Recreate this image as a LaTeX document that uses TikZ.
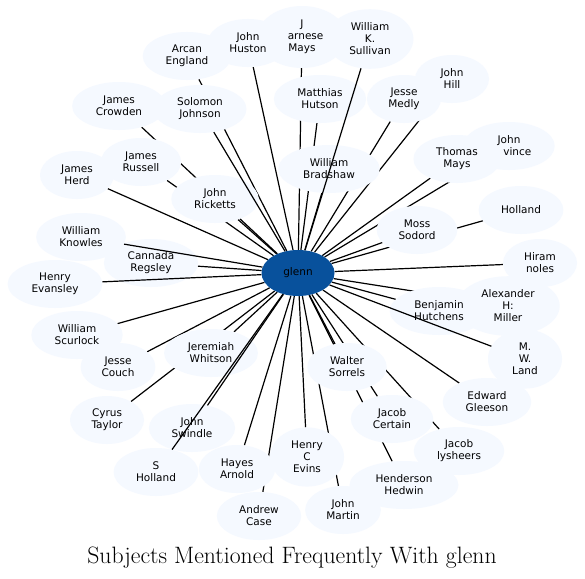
\documentclass[tikz,border=0pt]{standalone}
\usepackage{fontspec}
\newfontfamily\nodefont{DejaVu Sans}
\usetikzlibrary{shapes.geometric,backgrounds}
\definecolor{nodefill}{RGB}{245,249,255}
\definecolor{hubfill}{HTML}{08519C}
\begin{document}
\begin{tikzpicture}[x=1pt,y=-1pt,
  person/.style={ellipse, fill=nodefill, inner xsep=10pt, inner ysep=5pt,
    minimum width=74pt, minimum height=48pt,
    font=\nodefont\fontsize{10.5}{12}\selectfont, align=center},
  hub/.style={ellipse, fill=hubfill, minimum width=73pt, minimum height=46pt,
    inner sep=0pt, text=black, font=\nodefont\fontsize{10.5}{12}\selectfont},
  link/.style={line width=1.2pt, black},
  titletext/.style={font=\fontsize{23.7}{28}\selectfont}]
\useasboundingbox (0,0) rectangle (585,578);
% nodes
\node[person] (jmays) at (302,37) {J\\\hphantom{V}arnese\\Mays};
\node[person] (huston) at (248,43) {John\\Huston};
\node[person] (sullivan) at (370,39) {William\\K.\\Sullivan};
\node[person] (arcan) at (187,56) {Arcan\\England};
\node[person] (hill) at (452,79) {John\\Hill};
\node[person] (medly) at (404,99) {Jesse\\Medly};
\node[person] (matthias) at (320,99) {Matthias\\Hutson};
\node[person] (crowden) at (119,106) {James\\Crowden};
\node[person] (solomon) at (200,109) {Solomon\\Johnson};
\node[person] (province) at (509,146) {John\\\hphantom{Pro}vince};
\node[person] (tmays) at (457,159) {Thomas\\Mays};
\node[person] (russell) at (141,162) {James\\Russell};
\node[person] (bradshaw) at (329,169) {William\\Bradshaw};
\node[person] (herd) at (77,175) {James\\Herd};
\node[person] (ricketts) at (215,199) {John\\Ricketts};
\node[person] (holland) at (521,210) {Holland};
\node[person] (moss) at (417,230) {Moss\\Sodord};
\node[person] (knowles) at (81,237) {William\\Knowles};
\node[person] (cannada) at (151,263) {Cannada\\Regsley};
\node[person] (hiram) at (540,263) {Hiram\\noles};
\node[person] (evansley) at (55,284) {Henry\\Evansley};
\node[person] (miller) at (508,306) {Alexander\\H:\\Miller};
\node[person] (benjamin) at (439,311) {Benjamin\\Hutchens};
\node[person] (scurlock) at (77,335) {William\\Scurlock};
\node[person] (jeremiah) at (211,353) {Jeremiah\\Whitson};
\node[person] (land) at (525,359) {M.\\W.\\Land};
\node[person] (couch) at (118,367) {Jesse\\Couch};
\node[person] (sorrels) at (347,367) {Walter\\Sorrels};
\node[person] (gleeson) at (487,402) {Edward\\Gleeson};
\node[person] (cyrus) at (107,420) {Cyrus\\Taylor};
\node[person] (certain) at (392,419) {Jacob\\Certain};
\node[person] (swindle) at (192,428) {John\\Swindle};
\node[person] (lysheers) at (459,451) {Jacob\\lysheers};
\node[person] (evins) at (307,457) {Henry\\C\\Evins};
\node[person] (sholland) at (156,472) {S\\Holland};
\node[person] (hayes) at (237,469) {Hayes\\Arnold};
\node[person] (hedwin) at (404,485) {Henderson\\Hedwin};
\node[person] (acase) at (259,516) {Andrew\\Case};
\node[person] (martin) at (343,510) {John\\Martin};
\node[hub] (glenn) at (298,273) {glenn};
% edges hidden behind other nodes
\begin{pgfonlayer}{background}
\fill[white] (0,0) rectangle (585,578);
\foreach \n in {jmays,huston,arcan,hill,medly,matthias,crowden,province,tmays,
  russell,bradshaw,herd,ricketts,holland,moss,cannada,hiram,miller,benjamin,
  scurlock,jeremiah,couch,sorrels,gleeson,cyrus,certain,lysheers,evins,hayes,
  hedwin,acase,martin}
  \draw[link] (glenn) -- (\n);
\end{pgfonlayer}
% edges drawn over other nodes
\foreach \n in {sullivan,solomon,knowles,evansley,land,swindle,sholland}
  \draw[link] (glenn) -- (\n);
% title
\node[titletext, anchor=base] (title) at (292,563) {Subjects Mentioned Frequently With glenn};
\end{tikzpicture}
\end{document}
